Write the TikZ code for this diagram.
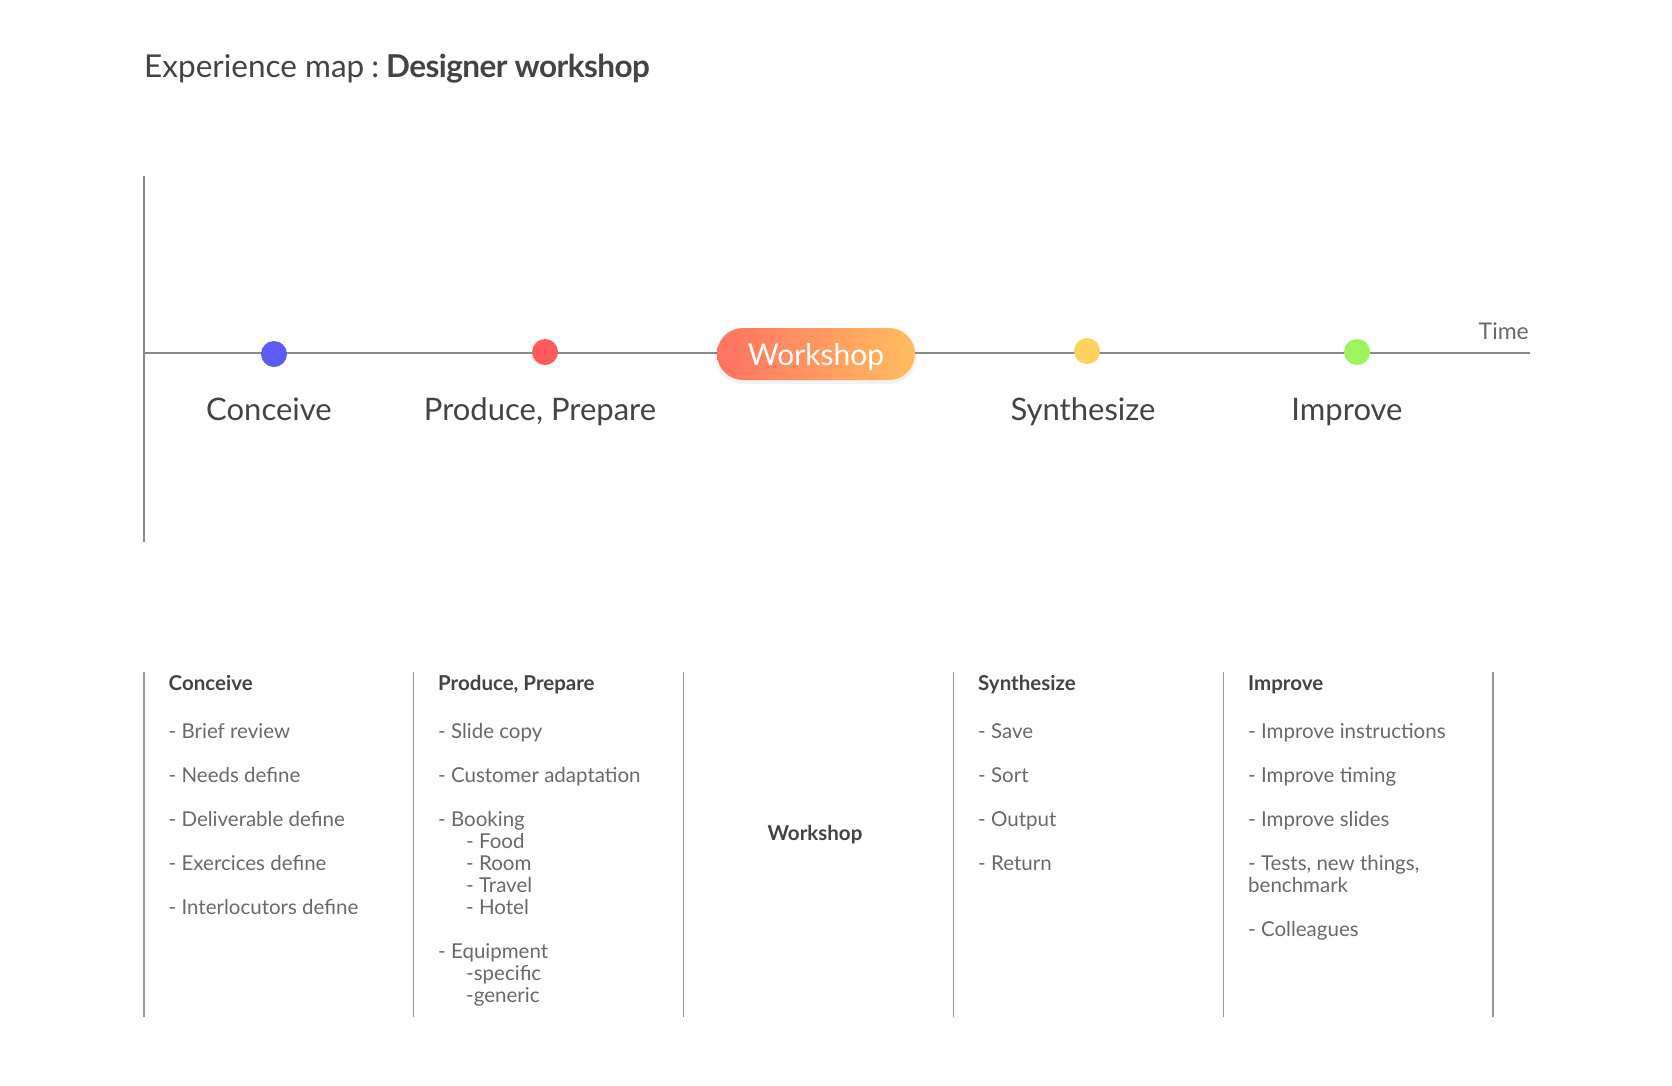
\documentclass[tikz,border=0pt]{standalone}
\usepackage{fontspec}
\setmainfont{Lato}
\definecolor{txtdark}{HTML}{444444}
\definecolor{txtgray}{HTML}{6A6A6A}
\definecolor{axisgray}{HTML}{8A8A8A}
\definecolor{dotblue}{HTML}{5C5CF7}
\definecolor{dotred}{HTML}{FF5B5B}
\definecolor{dotyellow}{HTML}{FFD25C}
\definecolor{dotgreen}{HTML}{9BF55B}
\definecolor{wsleft}{HTML}{FF7262}
\definecolor{wsright}{HTML}{FFBE5E}
\begin{document}
\begin{tikzpicture}[x=1pt,y=-1pt,
  titletext/.style={anchor=base west, inner sep=0pt, font=\fontsize{31.5}{38}\selectfont, text=txtdark},
  phase/.style={anchor=base, inner sep=0pt, font=\fontsize{31}{36}\selectfont, text=txtdark},
  timelabel/.style={anchor=base east, inner sep=0pt, font=\fontsize{23}{28}\selectfont, text=txtgray},
  dot/.style={circle, minimum size=26pt, inner sep=0pt},
  pill/.style={rounded corners=26pt, minimum width=198pt, minimum height=52pt, inner sep=0pt,
    text depth=0pt, left color=wsleft, right color=wsright, text=white, font=\fontsize{30}{36}\selectfont},
  colhead/.style={anchor=base west, inner sep=0pt, font=\fontsize{20.5}{24}\selectfont\bfseries, text=txtdark},
  item/.style={anchor=base west, inner sep=0pt, font=\fontsize{20.5}{24}\selectfont, text=txtgray},
  axisline/.style={draw=axisgray, line width=1.1pt},
  divider/.style={draw=axisgray!90, line width=1.1pt}
]
\useasboundingbox[fill=white] (0,0) rectangle (1672,1085);

% title
\node[titletext] (title) at (144,77) {Experience map\hspace{7pt}:\hspace{7pt}{\bfseries\addfontfeature{LetterSpace=-1.8}Designer workshop}};

% axes
\coordinate (vtop) at (144,176);
\coordinate (vbot) at (144,542);
\coordinate (origin) at (144,353);
\coordinate (tend) at (1530,353);
\draw[axisline] (vtop) -- (vbot);
\draw[axisline] (origin) -- (tend);
\node[timelabel] (time) at (1529,339) {Time};

% milestones
\node[dot, fill=dotblue] (d1) at (274,354) {};
\node[dot, fill=dotred] (d2) at (545,352) {};
\fill[black, opacity=0.05, rounded corners=28pt] (715,329) rectangle (917,384);
\node[pill] (ws) at (816,354) {Workshop};
\node[dot, fill=dotyellow] (d4) at (1087,351) {};
\node[dot, fill=dotgreen] (d5) at (1357,352) {};

\node[phase] (p1) at (269,420) {Conceive};
\node[phase] (p2) at (540,420) {Produce, Prepare};
\node[phase] (p4) at (1083,420) {Synthesize};
\node[phase] (p5) at (1347,420) {Improve};

% column dividers
\foreach \i/\x in {1/144,2/413.8,3/683.6,4/953.4,5/1223.2,6/1493}{
  \coordinate (dt\i) at (\x,672);
  \coordinate (db\i) at (\x,1017);
  \draw[divider] (dt\i) -- (db\i);
}

\def\lineh{22.05}
% column 1
\node[colhead] (h1) at (168.5,690) {Conceive};
\foreach \k/\t [count=\n] in {0/- Brief review, 2/- Needs define, 4/- Deliverable define, 6/- Exercices define, 8/- Interlocutors define}{
  \node[item] (a\n) at (168.5,738+\k*\lineh) {\t};
}

% column 2
\node[colhead] (h2) at (438,690) {Produce, Prepare};
\foreach \k/\dx/\t [count=\n] in {0/0/- Slide copy, 2/0/- Customer adaptation, 4/0/- Booking, 5/28/- Food, 6/28/- Room, 7/28/- Travel, 8/28/- Hotel, 10/0/- Equipment, 11/28/-specific, 12/28/-generic}{
  \node[item] (b\n) at (438+\dx,738+\k*\lineh) {\t};
}

% column 3
\node[colhead, anchor=base] (h3) at (815,840) {Workshop};

% column 4
\node[colhead] (h4) at (978,690) {Synthesize};
\foreach \k/\t [count=\n] in {0/- Save, 2/- Sort, 4/- Output, 6/- Return}{
  \node[item] (c\n) at (978,738+\k*\lineh) {\t};
}

% column 5
\node[colhead] (h5) at (1248,690) {Improve};
\foreach \k/\t [count=\n] in {0/- Improve instructions, 2/- Improve timing, 4/- Improve slides, 6/{- Tests, new things,}, 7/benchmark, 9/- Colleagues}{
  \node[item] (e\n) at (1248,738+\k*\lineh) {\t};
}
\end{tikzpicture}
\end{document}
